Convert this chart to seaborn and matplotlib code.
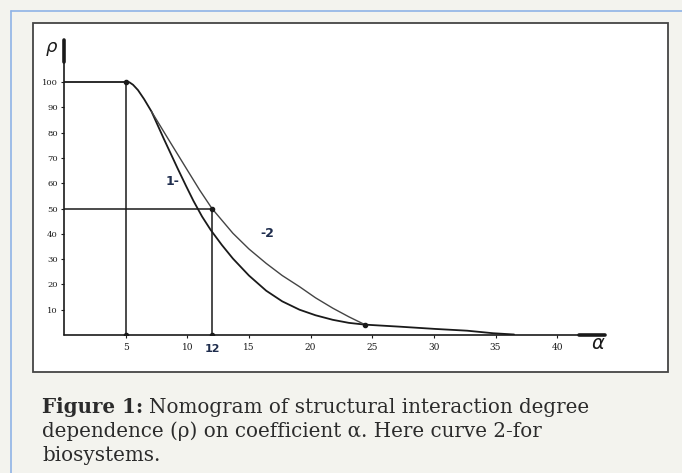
import matplotlib
matplotlib.use('Agg')
import matplotlib.pyplot as plt
import matplotlib.patches as mpatches
import seaborn as sns
import pandas as pd

# values
plateau_alpha = [0, 5]
plateau_rho = [100, 100]

curve1_alpha = [5, 5.3, 5.6, 6.0, 6.5, 7.1, 8.1, 9.2, 9.9, 10.5, 11.2, 11.9, 12.8, 13.7, 15.0,
                16.4, 17.7, 19.1, 20.4, 21.8, 23.1, 24.4]
curve1_rho = [100, 99.9, 98.9, 96.8, 93.2, 88.3, 77.5, 66.0, 58.9, 53.0, 46.8, 41.5, 35.6, 30.2, 23.5,
              17.5, 13.3, 10.0, 7.8, 6.0, 4.8, 4.1]

curve2_alpha = [7.1, 8.5, 10.0, 11.0, 12.0, 13.7, 15.0, 16.4, 17.7, 19.1, 20.4, 21.8, 23.1, 24.4]
curve2_rho = [88.3, 77.1, 65.2, 57.3, 50.0, 40.2, 34.0, 28.3, 23.5, 19.1, 14.7, 10.6, 7.2, 4.1]

tail_alpha = [24.4, 27.2, 30.1, 32.7, 34.8, 36.5]
tail_rho = [4.1, 3.3, 2.4, 1.7, 0.7, 0.2]

ytick_values = [10, 20, 30, 40, 50, 60, 70, 80, 90, 100]
xtick_values = [5, 10, 15, 20, 25, 30, 35, 40]

W, H = 682, 473
bg = '#f3f3ee'
ink = '#1a1a1a'

sns.set_style('white')
fig = plt.figure(figsize=(W / 100, H / 100), dpi=100, facecolor=bg)

# panel frame: blue edge and white inner box (drawn under the axes)
fig.add_artist(plt.Line2D([10.5 / W, 10.5 / W], [0, 1 - 11 / H], color='#8fb3e6', lw=1.2, zorder=-2))
fig.add_artist(plt.Line2D([10.5 / W, 1], [1 - 11 / H, 1 - 11 / H], color='#8fb3e6', lw=1.2, zorder=-2))
fig.add_artist(mpatches.Rectangle((33 / W, 1 - 372 / H), 635 / W, 349 / H,
                                  facecolor='white', edgecolor='#444444', lw=1.3, zorder=-1))

ax = fig.add_axes([64 / W, 1 - 335 / H, 546 / W, 300 / H])
ax.set_zorder(2)
ax.set_xlim(0, 546 / 12.33)
ax.set_ylim(0, 300 / 2.53)
ax.patch.set_alpha(0)
sns.despine(ax=ax, left=True, bottom=True, top=True, right=True)

curves = pd.concat([
    pd.DataFrame({'alpha': plateau_alpha, 'rho': plateau_rho, 'part': 'plateau'}),
    pd.DataFrame({'alpha': curve1_alpha, 'rho': curve1_rho, 'part': 'curve 1'}),
    pd.DataFrame({'alpha': tail_alpha, 'rho': tail_rho, 'part': 'tail'}),
])
sns.lineplot(data=curves, x='alpha', y='rho', units='part', estimator=None, sort=False,
             color=ink, lw=1.3, ax=ax)
sns.lineplot(x=curve2_alpha, y=curve2_rho, estimator=None, sort=False, color='#444444', lw=1.0, ax=ax)

# construction lines
ax.plot([5, 5], [0, 100], color=ink, lw=1.1)
ax.plot([0, 12], [50, 50], color=ink, lw=1.1)
ax.plot([12, 12], [0, 50], color=ink, lw=1.1)
ax.scatter([5, 12, 24.4, 5, 12], [100, 50, 4.1, 0, 0], s=9, color=ink, zorder=5)

# axes drawn like the hand-drawn original
ax.plot([0, 0], [0, 116.5], color=ink, lw=1.2, clip_on=False)
ax.plot([0, 0], [108, 116.5], color=ink, lw=2.6, clip_on=False)
ax.plot([0, 43.9], [0, 0], color=ink, lw=1.2, clip_on=False)
ax.plot([41.8, 43.9], [0, 0], color=ink, lw=2.6, clip_on=False)

ax.set_yticks(ytick_values)
ax.set_yticklabels([str(v) for v in ytick_values], fontsize=6, color=ink, family='DejaVu Serif')
ax.set_xticks(xtick_values)
ax.set_xticklabels([str(v) for v in xtick_values], fontsize=6.5, color=ink, family='DejaVu Serif')
ax.tick_params(axis='y', length=2.5, width=0.8, pad=2, color=ink, left=True)
ax.tick_params(axis='x', length=2.5, width=0.8, pad=3, color=ink, bottom=True)
ax.set_xlabel('')
ax.set_ylabel('')

ax.text(12, -3.5, '12', ha='center', va='top', fontsize=8, fontweight='bold', color='#1f2d4d')
ax.text(8.2, 60.5, '1-', ha='left', va='center', fontsize=9, fontweight='bold', color='#1f2d4d')
ax.text(15.9, 40, '-2', ha='left', va='center', fontsize=9, fontweight='bold', color='#1f2d4d')
ax.text(-1.0, 114, 'ρ', ha='center', va='center', fontsize=13, style='italic', color=ink)
ax.text(43.3, -3.2, 'α', ha='center', va='center', fontsize=14, style='italic', color=ink)

# caption
cap_font = 'DejaVu Serif'
cap_size = 14.3
cap_color = '#2b2b2b'
x0 = 42 / W
t = fig.text(x0, 1 - 413 / H, 'Figure 1:', fontsize=cap_size, fontweight='bold', family=cap_font,
             color=cap_color, va='baseline')
renderer = fig.canvas.get_renderer()
bb = t.get_window_extent(renderer)
fig.text((bb.x1 + 6) / W, 1 - 413 / H, 'Nomogram of structural interaction degree',
         fontsize=cap_size, family=cap_font, color=cap_color, va='baseline')
fig.text(x0, 1 - 437 / H, 'dependence (ρ) on coefficient α. Here curve 2-for',
         fontsize=cap_size, family=cap_font, color=cap_color, va='baseline')
fig.text(x0, 1 - 461 / H, 'biosystems.', fontsize=cap_size, family=cap_font, color=cap_color, va='baseline')

fig.savefig('out.png', dpi=100, facecolor=bg)
